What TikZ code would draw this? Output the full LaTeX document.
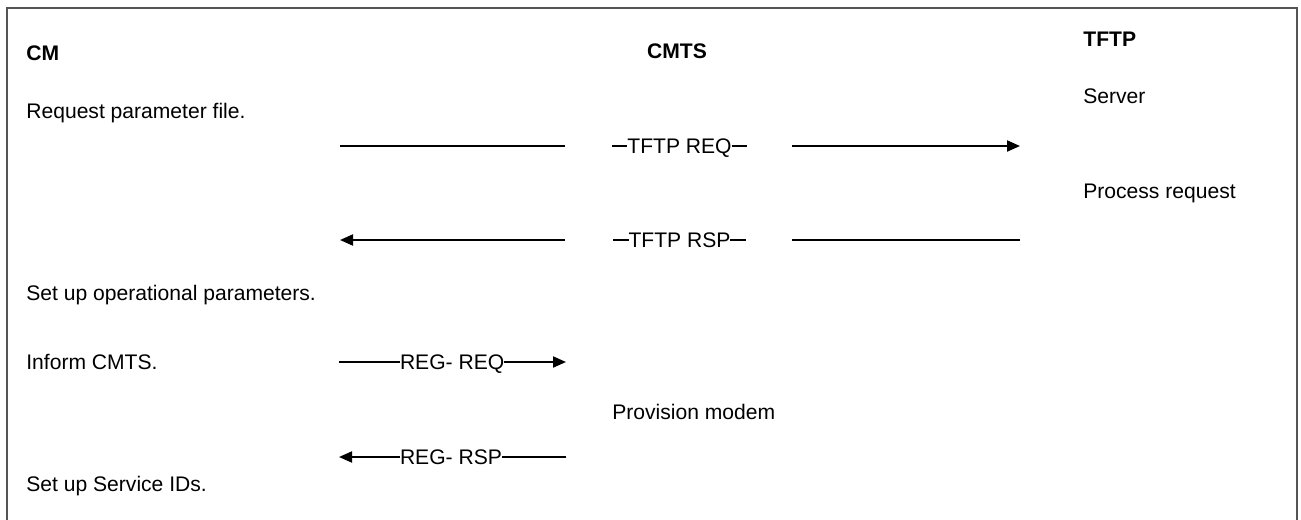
\documentclass[tikz,border=0pt]{standalone}
\usepackage{fontspec}
\setmainfont{Liberation Sans}
\usepackage{tikz}
\usetikzlibrary{arrows.meta, positioning, calc}
\definecolor{framegray}{RGB}{85,85,85}

\begin{document}
\begin{tikzpicture}[
  font=\fontsize{12}{14}\selectfont,
  txt/.style={anchor=base west, inner sep=0pt},
  head/.style={txt, font=\fontsize{12}{14}\selectfont\bfseries},
  msg/.style={line width=1.1pt},
  msgtip/.style={msg, -{Triangle[length=0.26cm, width=0.22cm]}},
  msglabel/.style={inner sep=0pt, outer sep=0pt, text height=0.30cm, text depth=0pt}
]
  \useasboundingbox (0,0) rectangle (26.02,10.38);
  % Outer frame (runs off the bottom)
  \draw[framegray, line width=1.1pt] (0.14,-0.2) -- (0.14,10.22) -- (25.94,10.22) -- (25.94,-0.2);
  % Column heads
  \node[head] (cm) at (0.52,9.17) {CM};
  \node[head, anchor=base] (cmts) at (13.54,9.22) {CMTS};
  \node[head] (tftp) at (21.66,9.46) {TFTP};
  % CM side
  \node[txt] (reqfile) at (0.52,8.02) {Request parameter file.};
  \node[txt] (opparams) at (0.52,4.38) {Set up operational parameters.};
  \node[txt] (inform) at (0.52,3.00) {Inform CMTS.};
  \node[txt] (setsid) at (0.52,0.56) {Set up Service IDs.};
  % CMTS side
  \node[txt] (provision) at (12.24,2.00) {Provision modem};
  % TFTP side
  \node[txt] (server) at (21.66,8.32) {Server};
  \node[txt] (procreq) at (21.66,6.42) {Process request};

  % TFTP REQ
  \coordinate (reqfrom) at (6.8,7.46);
  \coordinate (reqgapl) at (11.3,7.46);
  \coordinate (reqgapr) at (15.84,7.46);
  \coordinate (reqto) at (20.4,7.46);
  \node[msglabel] (tftpreq) at (13.59,7.46) {TFTP REQ};
  \draw[msg] (reqfrom) -- (reqgapl);
  \draw[msg] ([xshift=-0.31cm]tftpreq.west) -- (tftpreq.west);
  \draw[msg] (tftpreq.east) -- ([xshift=0.31cm]tftpreq.east);
  \draw[msgtip] (reqgapr) -- (reqto);

  % TFTP RSP
  \coordinate (rspto) at (6.8,5.58);
  \coordinate (rspgapl) at (11.3,5.58);
  \coordinate (rspgapr) at (15.84,5.58);
  \coordinate (rspfrom) at (20.4,5.58);
  \node[msglabel] (tftprsp) at (13.59,5.58) {TFTP RSP};
  \draw[msgtip] (rspgapl) -- (rspto);
  \draw[msg] ([xshift=-0.31cm]tftprsp.west) -- (tftprsp.west);
  \draw[msg] (tftprsp.east) -- ([xshift=0.31cm]tftprsp.east);
  \draw[msg] (rspfrom) -- (rspgapr);

  % REG- REQ
  \coordinate (regreqfrom) at (6.78,3.14);
  \coordinate (regreqto) at (11.32,3.14);
  \node[msglabel, anchor=west] (regreq) at (8.0,3.14) {REG- REQ};
  \draw[msg] (regreqfrom) -- (regreq.west);
  \draw[msgtip] (regreq.east) -- (regreqto);

  % REG- RSP
  \coordinate (regrspto) at (6.78,1.24);
  \coordinate (regrspfrom) at (11.32,1.24);
  \node[msglabel, anchor=west] (regrsp) at (8.0,1.24) {REG- RSP};
  \draw[msgtip] (regrsp.west) -- (regrspto);
  \draw[msg] (regrspfrom) -- (regrsp.east);
\end{tikzpicture}
\end{document}
